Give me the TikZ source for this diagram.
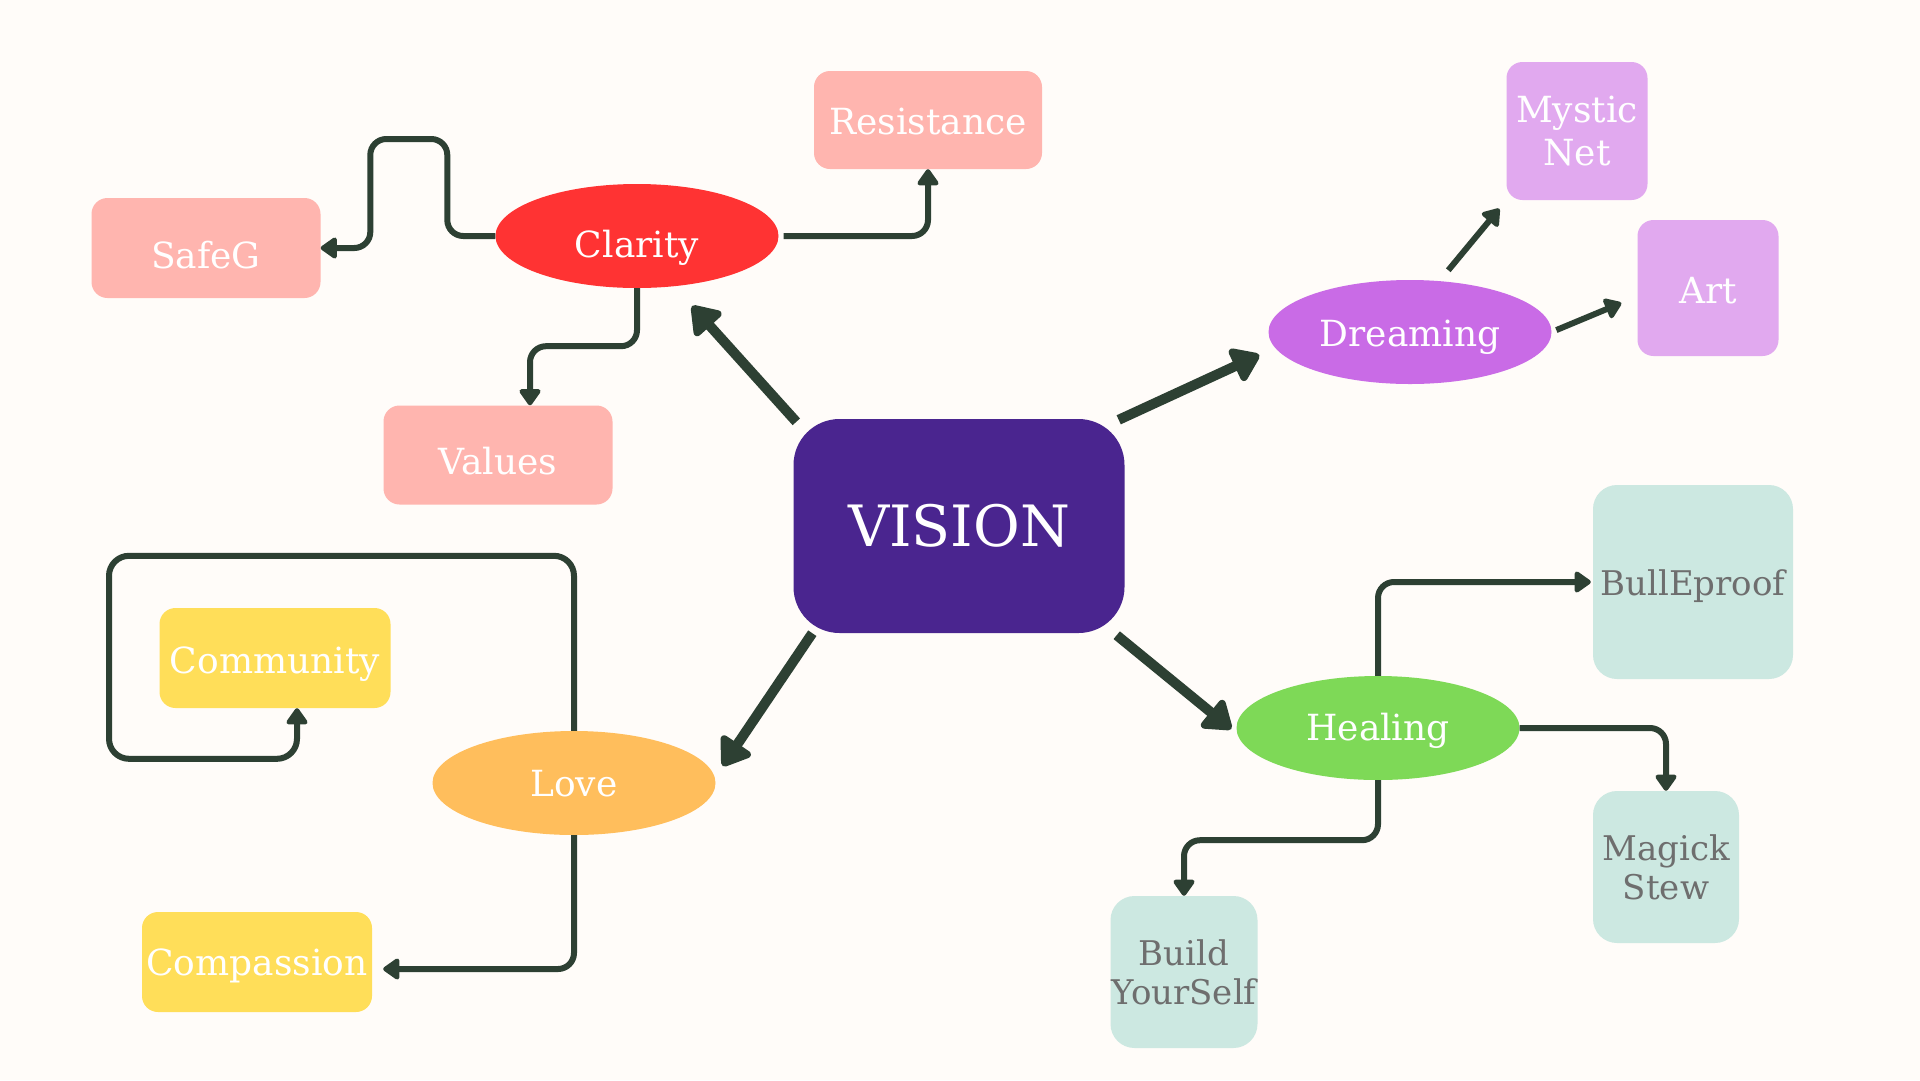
\documentclass[tikz,border=0pt]{standalone}
\usepackage{fontspec}
\setmainfont{DejaVu Serif}
\usetikzlibrary{arrows.meta,shapes.geometric}

\definecolor{paper}{HTML}{FFFCF9}
\definecolor{ink}{HTML}{2D4033}
\definecolor{visioncol}{HTML}{4A258F}
\definecolor{claritycol}{HTML}{FF3333}
\definecolor{claritybox}{HTML}{FFB5AF}
\definecolor{dreamcol}{HTML}{C96BE6}
\definecolor{dreambox}{HTML}{E1A9EF}
\definecolor{healcol}{HTML}{7ED957}
\definecolor{healbox}{HTML}{CCE8E1}
\definecolor{healtext}{HTML}{6E6E6E}
\definecolor{lovecol}{HTML}{FFBE5C}
\definecolor{lovebox}{HTML}{FFDE59}

\tikzset{
  hub/.style={rectangle, rounded corners=46pt, fill=visioncol, text=white,
    minimum width=331pt, minimum height=214pt, inner sep=0pt,
    font=\fontsize{57}{60}\selectfont},
  topic/.style={ellipse, text=white, minimum width=283pt, minimum height=104pt,
    inner sep=0pt, font=\fontsize{36}{42}\selectfont},
  leaf/.style={rectangle, rounded corners=16pt, text=white, inner sep=0pt,
    align=center, font=\fontsize{36}{43}\selectfont},
  healleaf/.style={leaf, rounded corners=24pt, fill=healbox, text=healtext,
    font=\fontsize{34}{39}\selectfont},
  lift/.style={text depth=0pt, text height=#1},
  link/.style={draw=ink, line width=6pt, rounded corners=16pt,
    -{Triangle[width=24pt,length=18pt,round]}},
  bigarrow/.style={draw=ink, line width=10pt,
    -{Triangle[width=40pt,length=30pt,round]}},
}

\begin{document}
\begin{tikzpicture}[x=1pt,y=-1pt]
\fill[paper] (0,0) rectangle (1920,1080);
\useasboundingbox (0,0) rectangle (1920,1080);

% centre
\node[hub] (vision) at (959,526) {VISION};

% clarity branch
\node[topic, fill=claritycol, lift=42pt] (clarity) at (637,236) {Clarity};
\node[leaf, fill=claritybox, lift=28pt, minimum width=228pt, minimum height=98pt] (resistance) at (928,120) {Resistance};
\node[leaf, fill=claritybox, lift=41pt, minimum width=229pt, minimum height=100pt] (safeg) at (206,248) {SafeG};
\node[leaf, fill=claritybox, lift=39pt, minimum width=229pt, minimum height=99pt] (values) at (498,455) {Values};

% dreaming branch
\node[topic, fill=dreamcol, lift=29pt] (dreaming) at (1410,332) {Dreaming};
\node[leaf, fill=dreambox, minimum width=141pt, minimum height=138pt] (mystic) at (1577,131) {Mystic\\Net};
\node[leaf, fill=dreambox, lift=30pt, minimum width=141pt, minimum height=136pt] (art) at (1708,288) {Art};

% healing branch
\node[topic, fill=healcol, lift=24pt] (healing) at (1378,728) {Healing};
\node[healleaf, lift=27pt, minimum width=200pt, minimum height=194pt] (bulleproof) at (1693,582) {BullEproof};
\node[healleaf, minimum width=146pt, minimum height=152pt] (magick) at (1666,867) {Magick\\Stew};
\node[healleaf, minimum width=147pt, minimum height=152pt] (build) at (1184,972) {Build\\YourSelf};

% love branch
\node[topic, fill=lovecol, lift=27pt] (love) at (574,783) {Love};
\node[leaf, fill=lovebox, lift=30pt, minimum width=231pt, minimum height=100pt] (community) at (275,658) {Community};
\node[leaf, fill=lovebox, lift=26pt, minimum width=230pt, minimum height=100pt] (compassion) at (257,962) {Compassion};

% main arrows
\draw[bigarrow] ([shift={(3,3)}]vision.north west) -- ([shift={(55,70)}]clarity.center);
\draw[bigarrow] ([shift={(-6,1)}]vision.north east) -- ([shift={(-9,23)}]dreaming.west);
\draw[bigarrow] ([shift={(19,0)}]vision.south west) -- ([shift={(7,-17)}]love.east);
\draw[bigarrow] ([shift={(-8,2)}]vision.south east) -- ([shift={(-5,1)}]healing.west);

% clarity
\draw[link, shorten <=5pt] (clarity.east) -| (resistance.south);
\draw[link] (clarity.west) -- ++(-48,0) -- ++(0,-97) -- ++(-77,0) |- (safeg.east);
\draw[link] (clarity.south) -- ++(0,58) -| ([xshift=32pt]values.north);

% dreaming
\draw[link, shorten <=2pt, shorten >=11pt] ([xshift=37pt,yshift=8pt]dreaming.north) -- (mystic.south west);
\draw[link, shorten <=5pt] (dreaming.east) -- ([shift={(-16,15)}]art.west);

% healing
\draw[link] (healing.north) |- ([xshift=-2pt]bulleproof.west);
\draw[link] (healing.east) -| (magick.north);
\draw[link] (healing.south) -- ++(0,60) -| (build.north);

% love
\draw[link, rounded corners=20pt] (love.north) -- ++(0,-175) -- ++(-465,0) -- ++(0,203) -| ([xshift=22pt]community.south);
\draw[link] (love.south) |- ([shift={(11,7)}]compassion.east);
\end{tikzpicture}
\end{document}
